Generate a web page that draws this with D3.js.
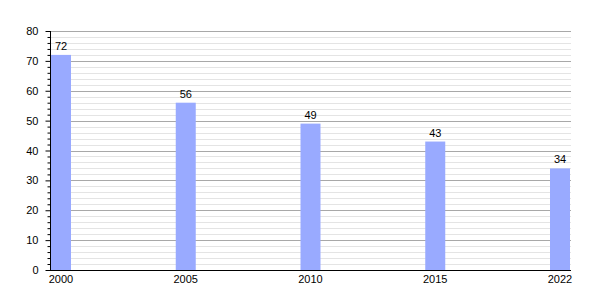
<!DOCTYPE html>
<html>
<head>
<meta charset="utf-8">
<script src="https://cdn.jsdelivr.net/npm/d3@7"></script>
<style>
  body { margin: 0; background: #fff; }
  text { font-family: "Liberation Sans", Arial, sans-serif; }
</style>
</head>
<body>
<div id="chart"></div>
<script>
var years = ["2000", "2005", "2010", "2015", "2022"];
var values = [72, 56, 49, 43, 34];
var yTicks = [0, 10, 20, 30, 40, 50, 60, 70, 80];

var W = 600, H = 300;
// note: "top" is taken by window.top, so use plot* names
var plotLeft = 50, plotRight = 571, plotTop = 31, plotBottom = 270;

var svg = d3.select("#chart").append("svg")
    .attr("width", W)
    .attr("height", H);

var y = d3.scaleLinear().domain([0, 80]).range([plotBottom, plotTop]);
var x = d3.scalePoint().domain(years).range([61, 560]);
var barW = 20;

// minor grid every 2
var minor = d3.range(2, 81, 2).filter(function(d) { return d % 10 != 0; });
svg.selectAll(".minor")
    .data(minor)
  .enter().append("line")
    .attr("x1", plotLeft).attr("x2", plotRight)
    .attr("y1", function(d) { return Math.round(y(d)) + 0.5; })
    .attr("y2", function(d) { return Math.round(y(d)) + 0.5; })
    .style("stroke", "#e4e4e4");

// major grid
svg.selectAll(".major")
    .data(yTicks.slice(1))
  .enter().append("line")
    .attr("x1", plotLeft).attr("x2", plotRight)
    .attr("y1", function(d) { return Math.round(y(d)) + 0.5; })
    .attr("y2", function(d) { return Math.round(y(d)) + 0.5; })
    .style("stroke", "#a8a8a8");

// bars
svg.selectAll(".bar")
    .data(values)
  .enter().append("rect")
    .attr("x", function(d, i) { return x(years[i]) - barW / 2; })
    .attr("width", barW)
    .attr("y", function(d) { return y(d); })
    .attr("height", function(d) { return plotBottom - y(d); })
    .style("fill", "#99aaff");

// value labels
svg.selectAll(".val")
    .data(values)
  .enter().append("text")
    .attr("x", function(d, i) { return x(years[i]); })
    .attr("y", function(d) { return y(d) - 5; })
    .attr("text-anchor", "middle")
    .style("font-size", "11px")
    .text(function(d) { return d; });

// y axis: minor ticks every 2, major every 10 with labels
var ya = svg.append("g")
    .attr("transform", "translate(" + (plotLeft + 0.5) + ",0)");
ya.append("g")
    .call(d3.axisLeft(y).tickValues(minor).tickSize(3).tickFormat(""))
    .select(".domain").remove();
var yMajor = ya.append("g")
    .call(d3.axisLeft(y).tickValues(yTicks).tickSize(5).tickPadding(7));
yMajor.select(".domain").remove();
yMajor.selectAll("text").style("font-size", "11px").style("font-family", "Liberation Sans, Arial, sans-serif");
ya.append("line").attr("y1", plotTop).attr("y2", plotBottom).style("stroke", "#000");

// x axis
svg.append("line")
    .attr("x1", plotLeft).attr("x2", plotRight)
    .attr("y1", plotBottom + 0.5).attr("y2", plotBottom + 0.5)
    .style("stroke", "#000");

svg.selectAll(".xl")
    .data(years)
  .enter().append("text")
    .attr("x", function(d) { return x(d); })
    .attr("y", plotBottom + 13)
    .attr("text-anchor", "middle")
    .style("font-size", "11px")
    .text(function(d) { return d; });
</script>
</body>
</html>
